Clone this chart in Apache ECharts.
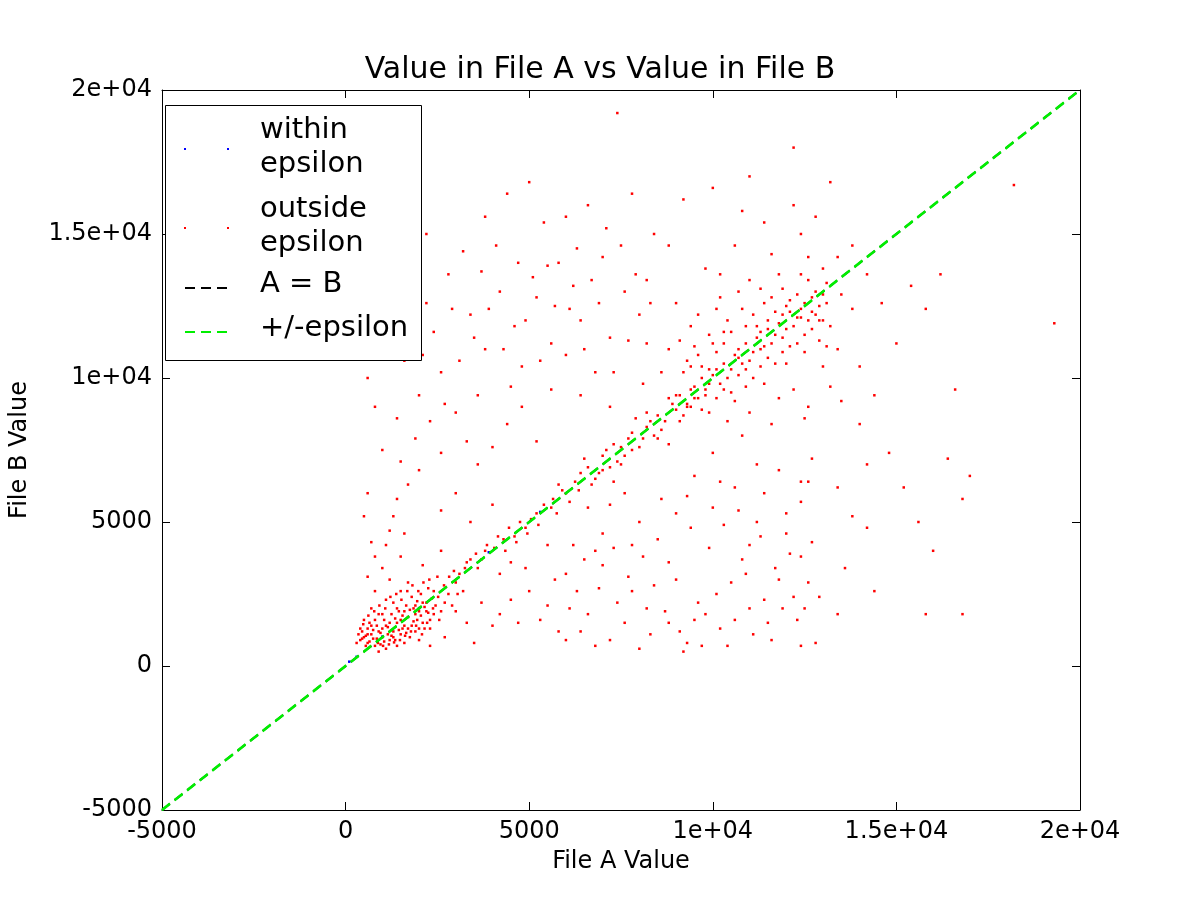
<!DOCTYPE html>
<html><head><meta charset="utf-8">
<script src="https://cdn.jsdelivr.net/npm/echarts@6/dist/echarts.min.js"></script>
<style>html,body{margin:0;padding:0;background:#fff}#c{width:1200px;height:900px}</style>
</head><body><div id="c"></div>
<script>
const tickValues = [-5000, 0, 5000, 10000, 15000, 20000];
const tickLabels = ['-5000', '0', '5000', '1e+04', '1.5e+04', '2e+04'];
const epsilon = 15;
const withinPoints = [[100,150],[300,320],[1000,1020],[2000,2010],[3900,3950],[5300,5350]];
const outsidePoints = [
[400,900],[600,1100],[800,700],[1000,1300],[1200,900],[1400,1500],[900,1800],[700,1400],[1100,600],[1500,1100],[1700,1700],[1900,2100],[2100,1500],[1300,2200],[500,1600],[1600,800],[1800,2400],[2000,1900],[800,2600],[1200,3000],[1500,2600],[2200,2200],[2400,2600],[600,800],[1000,1000],[1300,1200],[1600,1400],[1900,1200],[700,2000],[1100,2300],[400,1300],[300,800],[2300,1300],[2600,1900],[2000,900],[1400,700],[900,500],[1700,2900],[1000,3400],[600,3100],[2800,2500],[2500,3100],[3000,2900],[3200,2600],[2100,3500],[1500,3800],[700,4300],[500,5200],[1200,4700],[2600,4000],[3300,3600],[3600,3400],[3000,1900],[2700,1000],[3300,1500],[3700,2200],[4000,1400],[3500,800],[2300,700],[4200,3200],[3800,4000],[4300,4400],[4600,4500],[4900,4800],[5200,5300],[5600,5500],[4500,3600],[5000,2600],[4700,1500],[5500,2100],[6000,3200],[5800,1200],[6300,2600],[6600,1800],[7000,3500],[7200,900],[7600,1500],[7800,2600],[8100,3800],[8300,1100],[8700,1900],[9000,3000],[9300,800],[9600,2200],[9900,4100],[10200,1300],[10500,2900],[10800,3700],[11100,1100],[11400,2300],[11700,3400],[12000,4600],[12300,1600],[12600,2900],[12800,800],[12900,2400],[10000,5500],[10600,6200],[11200,5000],[11800,6800],[12400,5700],[12700,7200],[9500,6600],[9000,5300],[8500,4400],[8000,5000],[7600,6000],[7000,4600],[6600,5500],[6200,4200],[5800,6300],[5500,4200],
[450,950],[550,1050],[650,850],[750,1250],[850,950],[950,1150],[1050,850],[1150,1350],[1250,1050],[1350,1650],[1450,1250],[1550,1750],[1650,1150],[1750,1950],[1850,1550],[1950,2250],[2050,1750],[2150,2050],[2250,1850],[2350,2350],[450,1200],[550,700],[650,1500],[750,950],[850,1400],[950,750],[1050,1600],[1150,1100],[1250,1800],[1350,900],[1450,1900],[1550,1300],[1650,2100],[1750,1000],[1850,2000],[1950,1600],[2050,2500],[2150,1300],[2250,2700],[2450,2100],[500,1000],[700,1100],[900,1200],[1100,1400],[1300,1000],[1500,1600],[1700,1300],[1900,1800],[2100,2200],[2300,1600],[600,1300],[800,1600],[1000,1800],[1200,1500],[1400,2000],[1600,1900],[1800,1400],[2000,1300],[2200,1900],[2400,1800],[350,1100],[480,1450],[620,1750],[780,1900],[920,2100],[1080,2000],[1220,2400],[1380,2500],[1520,2300],[1680,2600],[1820,2800],[1980,2600],[2120,2900],[2280,3000],[2520,2400],[2680,2800],[2820,3100],[2950,3300],[3100,3200],[3250,3400],[3400,3700],[3550,3900],[3700,3700],[3850,4200],[4050,4100],[4150,4500],[4350,4000],[4450,4800],[4650,4300],[4750,5000],[4950,4600],[5050,5100],[5250,4900],[5400,5600],[5650,5800],[5750,5300],[5900,6100],[6100,5700],[6250,6400],[6350,6100],[880,800],[1020,700],[1180,750],[1320,820],[1480,900],[1620,1050],[1780,1200],[1920,1400],[2080,1100],[2220,1500],[2380,2000],[2550,1600],[2700,2200],[2900,2100],[3050,2500],
[6000,6000],[6400,6700],[6800,6500],[7000,7300],[7400,7100],[7700,7900],[8000,7600],[8300,8500],[8600,8200],[8900,9100],[9200,8700],[9500,9700],[9800,9400],[10100,10300],[10400,10000],[10700,11000],[11000,10600],[11300,11600],[11600,11200],[11900,12200],[12200,11800],[12500,12600],[12800,12200],[13100,13300],[6500,7200],[7300,6400],[7900,8600],[8800,7700],[9400,10400],[9900,8800],[10300,11600],[10900,9700],[11400,12600],[12000,10500],[12600,13400],[13200,11800],
[6600,6900],[6900,6700],[7100,7500],[7200,6900],[7500,7600],[7600,7300],[7800,8100],[8100,7900],[8200,8300],[8400,8000],[8500,8700],[8700,8500],[9000,8900],[9100,9400],[9300,9100],[9400,9600],[9600,9300],[9700,10000],[9900,9800],[10000,10100],[10200,9800],[10300,10500],[10500,10300],[10600,10800],[10800,10500],[10900,11200],[11100,10900],[11200,11400],[11400,11100],[11500,11700],[11700,11500],[11800,11900],[12000,11700],[12100,12300],[12300,12100],[12400,12400],[12600,12000],[12700,12800],[12900,12500],[13000,12900],[6700,6300],[7000,6800],[7300,7700],[7500,7000],[7800,7500],[8200,8800],[8500,7900],[8800,9300],[9100,8500],[9400,9000],
[9200,10200],[9600,10800],[10000,11200],[10400,12000],[10800,12400],[11200,11800],[11600,12800],[12000,12500],[12400,12100],[12800,13000],[9400,11800],[10200,12800],[11000,13400],[11800,13600],[12600,14200],[13000,12000],[13400,11000],[13800,12400],[9000,9400],[9800,9600],[10600,9200],[11400,9800],[12200,9600],[13000,10400],[8600,10200],[8200,11200],[9000,12600],[9800,13800],[10600,14600],[11400,15400],[12200,16000],[12800,15600],[10000,16600],[11000,17000],[12200,18000],[13200,16800],[13800,14600],[14200,13600],[14600,12600],[15000,11200],[15400,13200],[15800,12400],[16200,13600],[16600,9600],[14400,9400],[14000,8400],[14800,7400],[15200,6200],[15600,5000],[16000,4000],[15800,1800],[16400,7200],[16800,5800],[17000,6600],[14200,4800],[13600,3400],[13400,1800],[14400,2600],[16800,1800],[18200,16700],[19300,11900],[13400,6200],[13800,5200],[14200,7000],[13500,9200],[14000,10400],[12600,9000],[11600,8400],[10800,8000],[10000,7400],[12400,6400],[11200,7000],
[9300,10600],[9500,11100],[9700,10400],[9900,11500],[10100,10900],[10300,11200],[10500,11600],[10700,10700],[10900,11800],[11100,12200],[11300,11000],[11500,12000],[11700,12300],[11900,11400],[12100,12700],[12300,12900],[12500,11500],[12700,12300],[12900,11300],[13100,12600],[9300,9000],[9500,9300],[9700,8900],[9900,10300],[10100,9300],[10300,9600],[10500,9500],[10700,10100],[10900,10300],[11100,10000],[11300,10400],[11500,10700],[11700,10500],[11900,10900],[12100,11100],[12300,11200],[12500,10900],[12700,11700],[12900,12000],[13100,11100],[8800,11000],[9100,11300],[9600,12200],[10100,12400],[10700,13000],[11300,13100],[11900,13100],[12400,13600],[13000,13800],[13500,12900],[10400,8500],[11000,8800],[11800,9300],[12500,8600],[13200,9700],[10200,13600],[10800,15800],[11600,14300],[12400,15000],[13400,14200],
[800,3800],[600,6000],[1000,7500],[800,9000],[1400,8600],[600,10000],[1200,11200],[900,12200],[1800,13000],[1600,10600],[2000,9400],[2400,11600],[2200,12600],[2800,13600],[2600,10200],[3000,8800],[3400,12200],[3200,14400],[3800,11000],[3600,9400],[4200,13000],[4000,7600],[4400,16400],[4600,11800],[5000,16800],[4800,10400],[5400,15400],[5200,12800],[5800,14000],[5600,11200],[6000,15600],[6200,13200],[6600,16000],[6400,12000],[7000,14200],[7200,11400],[7400,19200],[7600,13000],[7800,16400],[8000,12200],[8400,15000],[8200,13400],[8800,14600],[9200,16200],[1400,5800],[2000,6800],[2600,7400],[3000,6000],[3400,5000],[3600,7000],[4000,5600],[4400,8400],[4800,9000],[5200,7800],[5600,9600],[6000,10800],[6400,9400],[6800,10200],[7200,9000],[2200,15000],[3800,15600],[1600,4600],[2600,5400],
[1100,4200],[1300,5200],[1700,6300],[1900,7900],[2300,8500],[2700,9100],[3100,10600],[3500,11400],[3900,12400],[4300,11000],[4500,9700],[4900,12000],[5300,10600],[5700,12500],[6100,12400],[6500,11000],[6900,12600],[7300,10200],[7700,11300],[8100,9800],[1500,7100],[2100,10800],[2900,12400],[3300,7800],[3700,13700],[4100,14600],[4700,14000],[5100,13500],[5500,13900],[6300,14500],[6700,13400],[7100,15200],[7500,14600],[7900,13600],[8300,12600],
[6000,900],[6400,1200],[6800,700],[7400,2200],[8000,600],[8400,2800],[8800,1500],[9200,500],[9800,1800],[10400,700],[11000,2000],[11600,900],[12200,2400],[12400,700],[7800,4200],[8600,5800],[9400,4800],[10200,6400],[11000,4200],[11800,3000],[12400,3800],[7200,5600],[6800,4000],
[9100,1200],[9500,1600],[9700,700],[10100,2500],[10600,1600],[10900,3200],[11300,4500],[11500,1500],[11900,2000],[12100,3900],[12500,2000],[12700,4300],[10300,4900],[10700,5400],[11400,6000],[12000,5300],[12600,6400],[9300,5900],[8800,3600],[8200,2000],[7700,3100],[7300,4100],[6900,2700],[6500,3700],[6100,2000],[5700,3000],[5300,1600],[4900,3400],[4500,2300],[4200,1800]
];
const lineEnds = [-5000, 19900];

const chart = echarts.init(document.getElementById('c'));
const fmt = v => { const i = tickValues.indexOf(v); return i >= 0 ? tickLabels[i] : ''; };
function axis(pos, labels, name, gap) {
  return {
    type: 'value', min: -5000, max: 20000, interval: 5000, position: pos,
    name: name || '', nameLocation: 'middle', nameGap: gap || 0,
    nameTextStyle: { color: '#000', fontSize: 24, fontFamily: 'DejaVu Sans' },
    axisLine: { show: true, onZero: false, lineStyle: { color: '#000', width: 1 } },
    axisTick: { show: true, inside: true, length: 8, lineStyle: { color: '#000' } },
    splitLine: { show: false },
    axisLabel: { show: labels, color: '#000', fontSize: 24, fontFamily: 'DejaVu Sans', formatter: fmt, margin: 10 }
  };
}
chart.setOption({
  animation: false,
  title: { text: 'Value in File A vs Value in File B', left: 'center', top: 50,
    textStyle: { fontSize: 30, fontWeight: 'normal', color: '#000', fontFamily: 'DejaVu Sans' } },
  grid: { left: 150, right: 120, top: 90, bottom: 90, show: false },
  xAxis: [axis('bottom', true, 'File A Value', 40), axis('top', false)],
  yAxis: [axis('left', true, 'File B Value', 130), axis('right', false)],
  series: [
    { type: 'scatter', symbol: 'rect', symbolSize: 2.5, itemStyle: { color: '#ff0000', opacity: 1 }, data: outsidePoints, silent: true },
    { type: 'scatter', symbol: 'rect', symbolSize: 2.5, itemStyle: { color: '#0000ff', opacity: 1 }, data: withinPoints, silent: true },
    { type: 'line', symbol: 'none', lineStyle: { color: '#000', width: 2, type: [10, 6] },
      data: lineEnds.map(v => [v, v]) },
    { type: 'line', symbol: 'none', lineStyle: { color: '#00ee00', width: 2, type: [10, 6] },
      data: lineEnds.map(v => [v, v + epsilon]) },
    { type: 'line', symbol: 'none', lineStyle: { color: '#00ee00', width: 2, type: [10, 6] },
      data: lineEnds.map(v => [v, v - epsilon]) }
  ],
  graphic: [
    { type: 'rect', shape: { x: 165.5, y: 105.5, width: 256, height: 255 }, style: { fill: '#fff', stroke: '#000', lineWidth: 1 }, z: 100 },
    { type: 'rect', shape: { x: 184, y: 148, width: 2, height: 2 }, style: { fill: '#0000ff' }, z: 101 },
    { type: 'rect', shape: { x: 227, y: 148, width: 2, height: 2 }, style: { fill: '#0000ff' }, z: 101 },
    { type: 'rect', shape: { x: 184, y: 227, width: 2, height: 2 }, style: { fill: '#ff0000' }, z: 101 },
    { type: 'rect', shape: { x: 227, y: 227, width: 2, height: 2 }, style: { fill: '#ff0000' }, z: 101 },
    { type: 'line', shape: { x1: 185, y1: 288, x2: 229, y2: 288 }, style: { stroke: '#000', lineWidth: 2, lineDash: [10, 6] }, z: 101 },
    { type: 'line', shape: { x1: 185, y1: 332, x2: 229, y2: 332 }, style: { stroke: '#00ee00', lineWidth: 2, lineDash: [10, 6] }, z: 101 },
    { type: 'text', left: 260, top: 113, style: { text: 'within\nepsilon', fontSize: 29, lineHeight: 34, fill: '#000', fontFamily: 'DejaVu Sans' }, z: 101 },
    { type: 'text', left: 260, top: 192, style: { text: 'outside\nepsilon', fontSize: 29, lineHeight: 34, fill: '#000', fontFamily: 'DejaVu Sans' }, z: 101 },
    { type: 'text', left: 260, top: 270, style: { text: 'A = B', fontSize: 29, fill: '#000', fontFamily: 'DejaVu Sans' }, z: 101 },
    { type: 'text', left: 260, top: 314, style: { text: '+/-epsilon', fontSize: 29, fill: '#000', fontFamily: 'DejaVu Sans' }, z: 101 }
  ]
});
</script></body></html>
